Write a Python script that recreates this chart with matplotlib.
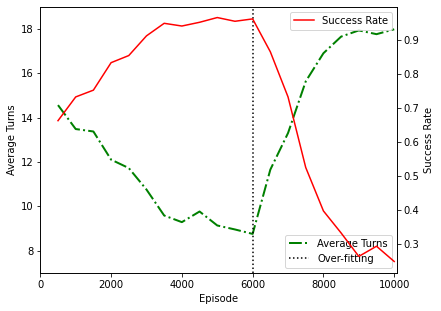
import numpy as np
import matplotlib.pyplot as plt

episodes = [500, 1000, 1500, 2000, 2500, 3000, 3500, 4000, 4500, 5000,
            5500, 6000, 6500, 7000, 7500, 8000, 8500, 9000, 9500, 10000]
avg_turns = [14.56, 13.48, 13.37, 12.1, 11.72, 10.75, 9.58, 9.28, 9.76, 9.13,
             8.95, 8.75, 11.65, 13.3, 15.63, 16.9, 17.65, 17.93, 17.76, 17.98]
success_rate = [0.662, 0.732, 0.752, 0.833, 0.854, 0.912, 0.949, 0.941, 0.952, 0.966,
                0.955, 0.962, 0.865, 0.732, 0.524, 0.396, 0.331, 0.262, 0.292, 0.247]
overfit_at = 6000

fig = plt.figure(figsize=(441 / 72, 311 / 72), dpi=72)
ax1 = fig.add_axes([0.0914, 0.1232, 0.8081, 0.8553])
ax2 = ax1.twinx()

ax1.plot(episodes, avg_turns, 'g-.', lw=2, label='Average Turns')
ax1.axvline(overfit_at, color='k', ls=':', lw=1.5, label='Over-fitting')
ax2.plot(episodes, success_rate, 'r-', lw=1.5, label='Success Rate')

ax1.set_xlim(0, 10070)
ax1.set_ylim(7, 19)
ax2.set_ylim(0.214, 0.998)
ax1.set_xlabel('Episode')
ax1.set_ylabel('Average Turns')
ax2.set_ylabel('Success Rate')

ax1.legend(loc='lower right')
ax2.legend(loc='upper right')

plt.savefig('out.png', dpi=72)
